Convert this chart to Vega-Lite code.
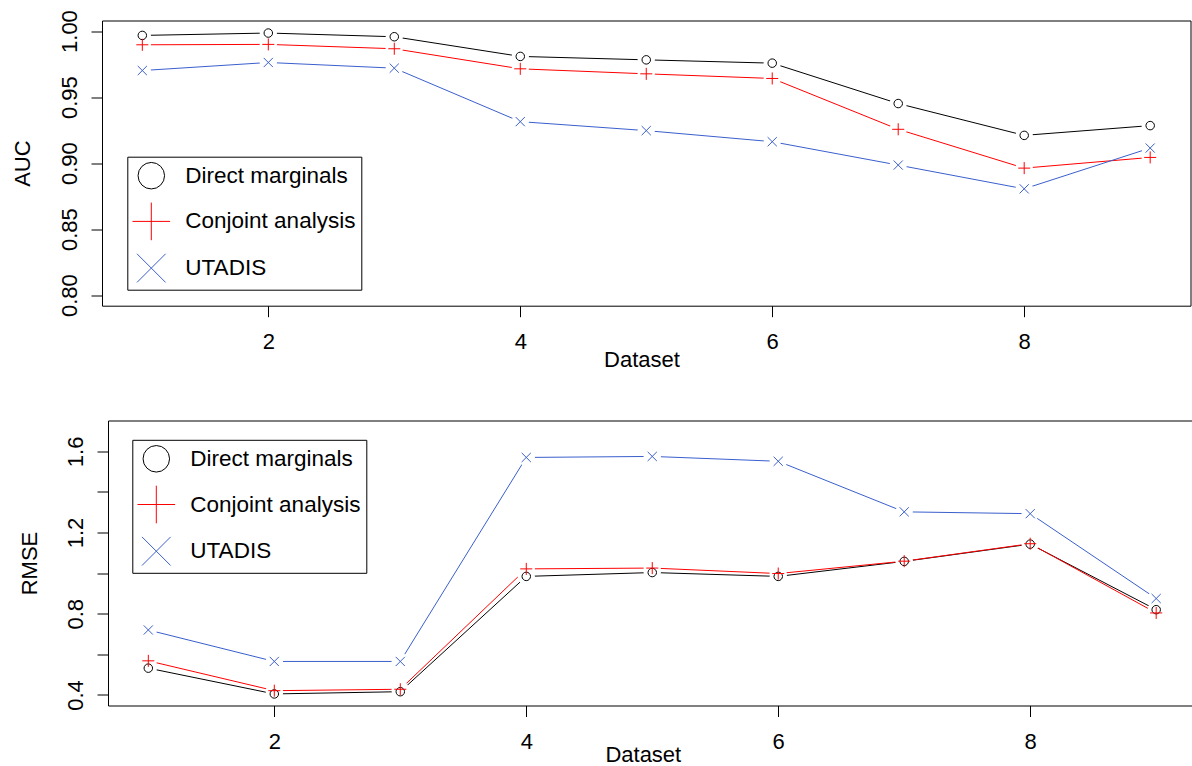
{
  "$schema": "https://vega.github.io/schema/vega-lite/v6.json",
  "background": "white",
  "padding": {"left": 10, "top": 8.5, "right": 0, "bottom": 0},
  "config": {
    "font": "Liberation Sans",
    "view": {"stroke": "black", "strokeWidth": 1},
    "axis": {
      "domain": false, "grid": false, "tickColor": "black", "tickSize": 11, "tickWidth": 1,
      "labelFont": "Liberation Sans", "labelFontSize": 22, "labelColor": "black",
      "titleFont": "Liberation Sans", "titleFontSize": 22, "titleFontWeight": "normal", "titleColor": "black"
    },
    "legend": {
      "orient": "none", "title": null, "strokeColor": "black", "fillColor": "white",
      "padding": 5, "symbolOffset": 5, "symbolSize": 702, "symbolStrokeWidth": 1, "labelFontSize": 22.5, "labelFont": "Liberation Sans", "labelColor": "black",
      "labelOffset": 20, "rowPadding": 8.7, "labelLimit": 400
    }
  },
  "datasets": {
    "auc": [
      {"dataset": 1, "method": "Direct marginals", "value": 0.9967},
      {"dataset": 2, "method": "Direct marginals", "value": 0.9985},
      {"dataset": 3, "method": "Direct marginals", "value": 0.9957},
      {"dataset": 4, "method": "Direct marginals", "value": 0.9808},
      {"dataset": 5, "method": "Direct marginals", "value": 0.9782},
      {"dataset": 6, "method": "Direct marginals", "value": 0.9757},
      {"dataset": 7, "method": "Direct marginals", "value": 0.9451},
      {"dataset": 8, "method": "Direct marginals", "value": 0.9210},
      {"dataset": 9, "method": "Direct marginals", "value": 0.9284},
      {"dataset": 1, "method": "Conjoint analysis", "value": 0.9896},
      {"dataset": 2, "method": "Conjoint analysis", "value": 0.9899},
      {"dataset": 3, "method": "Conjoint analysis", "value": 0.9866},
      {"dataset": 4, "method": "Conjoint analysis", "value": 0.9714},
      {"dataset": 5, "method": "Conjoint analysis", "value": 0.9676},
      {"dataset": 6, "method": "Conjoint analysis", "value": 0.9641},
      {"dataset": 7, "method": "Conjoint analysis", "value": 0.9256},
      {"dataset": 8, "method": "Conjoint analysis", "value": 0.8962},
      {"dataset": 9, "method": "Conjoint analysis", "value": 0.9043},
      {"dataset": 1, "method": "UTADIS", "value": 0.9701},
      {"dataset": 2, "method": "UTADIS", "value": 0.9762},
      {"dataset": 3, "method": "UTADIS", "value": 0.9719},
      {"dataset": 4, "method": "UTADIS", "value": 0.9314},
      {"dataset": 5, "method": "UTADIS", "value": 0.9246},
      {"dataset": 6, "method": "UTADIS", "value": 0.9162},
      {"dataset": 7, "method": "UTADIS", "value": 0.8985},
      {"dataset": 8, "method": "UTADIS", "value": 0.8805},
      {"dataset": 9, "method": "UTADIS", "value": 0.9114}
    ],
    "rmse": [
      {"dataset": 1, "method": "Direct marginals", "value": 0.532},
      {"dataset": 2, "method": "Direct marginals", "value": 0.405},
      {"dataset": 3, "method": "Direct marginals", "value": 0.416},
      {"dataset": 4, "method": "Direct marginals", "value": 0.984},
      {"dataset": 5, "method": "Direct marginals", "value": 1.003},
      {"dataset": 6, "method": "Direct marginals", "value": 0.984},
      {"dataset": 7, "method": "Direct marginals", "value": 1.058},
      {"dataset": 8, "method": "Direct marginals", "value": 1.143},
      {"dataset": 9, "method": "Direct marginals", "value": 0.820},
      {"dataset": 1, "method": "Conjoint analysis", "value": 0.568},
      {"dataset": 2, "method": "Conjoint analysis", "value": 0.421},
      {"dataset": 3, "method": "Conjoint analysis", "value": 0.428},
      {"dataset": 4, "method": "Conjoint analysis", "value": 1.021},
      {"dataset": 5, "method": "Conjoint analysis", "value": 1.025},
      {"dataset": 6, "method": "Conjoint analysis", "value": 0.998},
      {"dataset": 7, "method": "Conjoint analysis", "value": 1.059},
      {"dataset": 8, "method": "Conjoint analysis", "value": 1.145},
      {"dataset": 9, "method": "Conjoint analysis", "value": 0.804},
      {"dataset": 1, "method": "UTADIS", "value": 0.720},
      {"dataset": 2, "method": "UTADIS", "value": 0.565},
      {"dataset": 3, "method": "UTADIS", "value": 0.565},
      {"dataset": 4, "method": "UTADIS", "value": 1.570},
      {"dataset": 5, "method": "UTADIS", "value": 1.575},
      {"dataset": 6, "method": "UTADIS", "value": 1.551},
      {"dataset": 7, "method": "UTADIS", "value": 1.302},
      {"dataset": 8, "method": "UTADIS", "value": 1.293},
      {"dataset": 9, "method": "UTADIS", "value": 0.875}
    ]
  },
  "resolve": {"scale": {"color": "independent", "shape": "independent"}, "legend": {"color": "independent", "shape": "independent"}},
  "vconcat": [
    {
      "hconcat": [
        {
          "width": 1088.5,
          "height": 285.2,
          "data": {"name": "auc"},
          "encoding": {
            "x": {"field": "dataset", "type": "quantitative",
              "scale": {"domain": [0.68, 9.32], "nice": false, "zero": false},
              "axis": {"values": [2, 4, 6, 8], "title": "Dataset", "labelBaseline": "alphabetic", "labelPadding": 32,
                "titleX": 539.5, "titleY": 60.3, "titleBaseline": "alphabetic", "titleAlign": "center"}},
            "y": {"field": "value", "type": "quantitative",
              "scale": {"domain": [0.792, 1.008], "nice": false, "zero": false},
              "axis": {"values": [0.8, 0.85, 0.9, 0.95, 1.0], "format": ".2f", "title": "AUC",
                "labelAngle": 270, "labelAlign": "center", "labelBaseline": "alphabetic", "labelPadding": 14.7,
                "titleAngle": 270, "titleX": -72.6, "titleY": 142.6, "titleBaseline": "alphabetic", "titleAlign": "center"}}
          },
          "layer": [
            {"transform": [{"filter": "datum.method === 'Direct marginals'"}], "mark": {"type": "line", "strokeWidth": 1, "color": "black"}, "encoding": {}},
            {"transform": [{"filter": "datum.method === 'Conjoint analysis'"}], "mark": {"type": "line", "strokeWidth": 1, "color": "#FF0000"}, "encoding": {}},
            {"transform": [{"filter": "datum.method === 'UTADIS'"}], "mark": {"type": "line", "strokeWidth": 1, "color": "#3A5FCD"}, "encoding": {}},
            {"mark": {"type": "point", "filled": true, "color": "white", "strokeWidth": 0, "opacity": 1, "size": 300, "shape": "circle"}},
            {"mark": {"type": "point", "filled": false, "strokeWidth": 1, "opacity": 1, "size": 72},
             "encoding": {
               "color": {"field": "method", "type": "nominal",
                 "scale": {"domain": ["Direct marginals", "Conjoint analysis", "UTADIS"], "range": ["black", "#FF0000", "#3A5FCD"]},
                 "legend": {"legendX": 25.3, "legendY": 136.2}},
               "shape": {"field": "method", "type": "nominal",
                 "scale": {"domain": ["Direct marginals", "Conjoint analysis", "UTADIS"],
                   "range": ["circle", "M-1.42,0H1.42M0,-1.42V1.42", "M-1.08,-1.08L1.08,1.08M-1.08,1.08L1.08,-1.08"]},
                 "legend": {"legendX": 25.3, "legendY": 136.2}}
             }}
          ]
        }
      ],
      "spacing": 0
    },
    {
      "hconcat": [
        {"width": 6, "height": 285, "data": {"values": []}, "mark": "point", "view": {"stroke": null}},
        {
          "width": 1088.5,
          "height": 285,
          "data": {"name": "rmse"},
          "encoding": {
            "x": {"field": "dataset", "type": "quantitative",
              "scale": {"domain": [0.68, 9.32], "nice": false, "zero": false},
              "axis": {"values": [2, 4, 6, 8], "title": "Dataset", "labelBaseline": "alphabetic", "labelPadding": 32,
                "titleX": 534.8, "titleY": 56, "titleBaseline": "alphabetic", "titleAlign": "center"}},
            "y": {"field": "value", "type": "quantitative",
              "scale": {"domain": [0.348, 1.752], "nice": false, "zero": false},
              "axis": {"values": [0.4, 0.6, 0.8, 1.0, 1.2, 1.4, 1.6], "title": "RMSE",
                "labelExpr": "round(datum.value*10) % 4 == 0 ? format(datum.value, '.1f') : ''",
                "labelAngle": 270, "labelAlign": "center", "labelBaseline": "alphabetic", "labelPadding": 14.7,
                "titleAngle": 270, "titleX": -71.6, "titleY": 142.5, "titleBaseline": "alphabetic", "titleAlign": "center"}}
          },
          "layer": [
            {"transform": [{"filter": "datum.method === 'Direct marginals'"}], "mark": {"type": "line", "strokeWidth": 1, "color": "black"}, "encoding": {}},
            {"transform": [{"filter": "datum.method === 'Conjoint analysis'"}], "mark": {"type": "line", "strokeWidth": 1, "color": "#FF0000"}, "encoding": {}},
            {"transform": [{"filter": "datum.method === 'UTADIS'"}], "mark": {"type": "line", "strokeWidth": 1, "color": "#3A5FCD"}, "encoding": {}},
            {"mark": {"type": "point", "filled": true, "color": "white", "strokeWidth": 0, "opacity": 1, "size": 300, "shape": "circle"}},
            {"mark": {"type": "point", "filled": false, "strokeWidth": 1, "opacity": 1, "size": 72},
             "encoding": {
               "color": {"field": "method", "type": "nominal",
                 "scale": {"domain": ["Direct marginals", "Conjoint analysis", "UTADIS"], "range": ["black", "#FF0000", "#3A5FCD"]},
                 "legend": {"legendX": 30.3, "legendY": 19.3}},
               "shape": {"field": "method", "type": "nominal",
                 "scale": {"domain": ["Direct marginals", "Conjoint analysis", "UTADIS"],
                   "range": ["circle", "M-1.42,0H1.42M0,-1.42V1.42", "M-1.08,-1.08L1.08,1.08M-1.08,1.08L1.08,-1.08"]},
                 "legend": {"legendX": 30.3, "legendY": 19.3}}
             }}
          ]
        }
      ],
      "spacing": -91.7
    }
  ],
  "spacing": 49
}
